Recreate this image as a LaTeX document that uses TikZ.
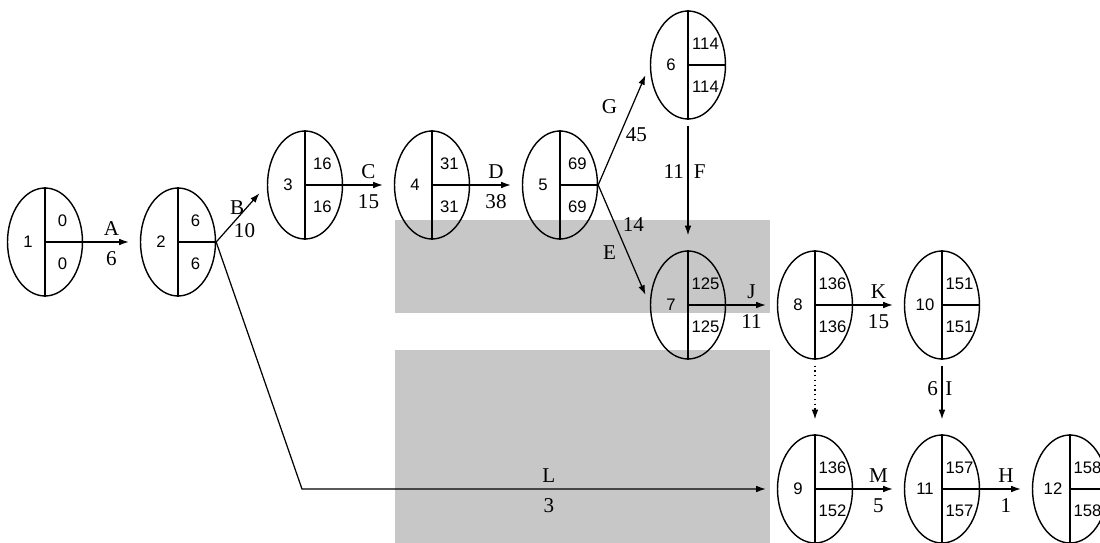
\documentclass[tikz,border=0pt]{standalone}
\usepackage{fontspec}
\setmainfont{Liberation Serif}
\newfontfamily\numfont{Liberation Sans}
\usetikzlibrary{shapes.geometric, arrows.meta}
\tikzset{>={Latex[length=5.5pt,width=3.8pt]}}
\colorlet{Wmcol}{black!22}
\tikzset{
  event/.style={draw, ellipse, line width=0.8pt, minimum width=1.5cm, minimum height=2.16cm, inner sep=0pt},
  split/.style={line width=0.8pt},
  num/.style={font=\numfont\fontsize{9.5}{11}\selectfont, inner sep=0pt},
  lbl/.style={font=\fontsize{12}{14}\selectfont, inner sep=1pt},
  up/.style={lbl, above=2.5pt},
  dn/.style={lbl, below=4pt},
  act/.style={->, line width=0.7pt, shorten >=0.22cm},
  down/.style={act, shorten <=0.12cm, shorten >=0.3cm}
}
% event: name, position, number, earliest, latest
\newcommand\eventnode[5]{%
  \node[event] (#1) at (#2) {};
  \draw[split] (#1.north) -- (#1.south) (#1.center) -- (#1.east);
  \node[num] (#1-no) at ([xshift=-0.34cm]#1.center) {#3};
  \node[num] (#1-es) at ([xshift=0.35cm,yshift=0.42cm]#1.center) {#4};
  \node[num] (#1-ls) at ([xshift=0.35cm,yshift=-0.44cm]#1.center) {#5};
}

\begin{document}
\begin{tikzpicture}[x=0.02cm, y=-0.02cm]
    \useasboundingbox (0,0) rectangle (1100,543);
    % grey blocks behind the network
    \fill [Wmcol] (395,220) rectangle (770,313);
    \fill [Wmcol] (395,350) rectangle (770,543);

    \eventnode{e1}{45,242}{1}{0}{0}
    \eventnode{e2}{178,242}{2}{6}{6}
    \eventnode{e3}{305,185}{3}{16}{16}
    \eventnode{e4}{432,185}{4}{31}{31}
    \eventnode{e5}{560,185}{5}{69}{69}
    \eventnode{e6}{688,65}{6}{114}{114}
    \eventnode{e7}{688,305}{7}{125}{125}
    \eventnode{e8}{815,305}{8}{136}{136}
    \eventnode{e10}{942,305}{10}{151}{151}
    \eventnode{e9}{815,489}{9}{136}{152}
    \eventnode{e11}{942,489}{11}{157}{157}
    \eventnode{e12}{1070,489}{12}{158}{158}
    \coordinate (Lbend) at (302,489);

    \draw [act] (e1.east) -- node[up]{A} node[dn]{6} (e2.west);
    \draw [act] (e2.east) -- node[lbl, pos=0.6, left]{B} node[lbl, pos=0.2, right=3pt]{10} (e3.west);
    \draw [act] (e2.east) -- (Lbend) -- node[up, pos=0.52]{L} node[dn, pos=0.52]{3} (e9.west);
    \draw [act] (e3.east) -- node[up]{C} node[dn]{15} (e4.west);
    \draw [act] (e4.east) -- node[up]{D} node[dn]{38} (e5.west);
    \draw [act] (e5.east) -- node[lbl, pos=0.65, left=7pt]{G} node[lbl, pos=0.42, right=2pt]{45} (e6.west);
    \draw [act] (e5.east) -- node[lbl, pos=0.33, right=3pt]{14} node[lbl, pos=0.56, left=5pt]{E} (e7.west);
    \draw [down] (e6.south) -- node[lbl, pos=0.4, left=1pt]{11} node[lbl, pos=0.4, right=2pt]{F} (e7.north);
    \draw [act] (e7.east) -- node[up]{J} node[dn]{11} (e8.west);
    \draw [act] (e8.east) -- node[up]{K} node[dn]{15} (e10.west);
    \draw [down, dotted] (e8.south) -- (e9.north);
    \draw [down] (e10.south) -- node[lbl, pos=0.39, left=1pt]{6} node[lbl, pos=0.39, right=0.5pt]{I} (e11.north);
    \draw [act] (e9.east) -- node[up]{M} node[dn]{5} (e11.west);
    \draw [act] (e11.east) -- node[up]{H} node[dn]{1} (e12.west);
\end{tikzpicture}
\end{document}
